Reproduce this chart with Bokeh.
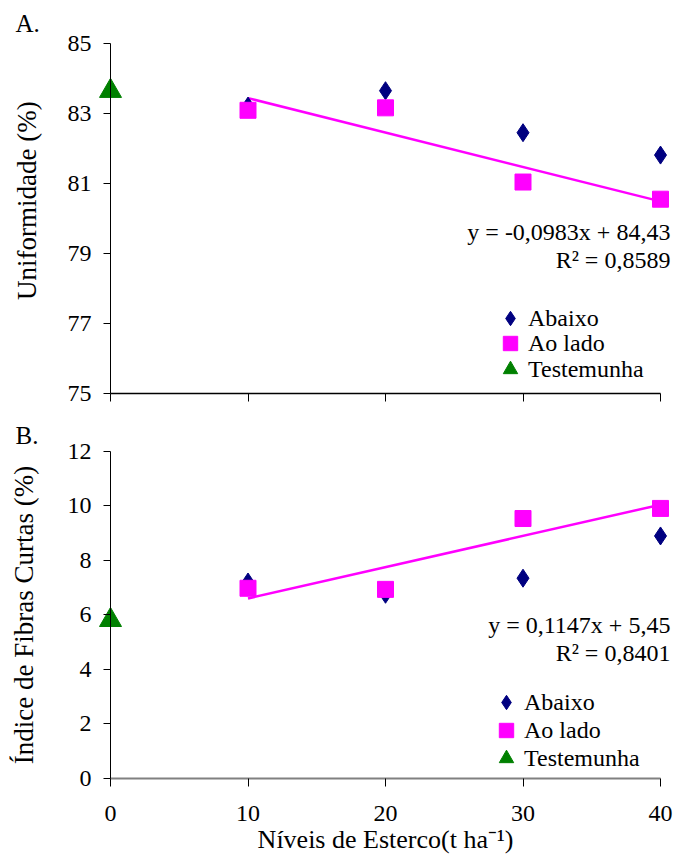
import math
from bokeh.plotting import figure
from bokeh.layouts import column
from bokeh.models import Range1d, Legend, LegendItem, Label, FixedTicker
from bokeh.embed import file_html
from bokeh.resources import INLINE

# ---------------- data ----------------
levels = [10, 20, 30, 40]
control_level = [0]

unif_abaixo = [83.22, 83.66, 82.46, 81.82]
unif_ao_lado = [83.10, 83.17, 81.05, 80.56]
unif_testemunha = [83.65]
unif_slope = -0.0983
unif_intercept = 84.43
unif_eq = "y = -0,0983x + 84,43"
unif_r2 = "R\u00b2 = 0,8589"

fib_abaixo = [7.20, 6.75, 7.34, 8.89]
fib_ao_lado = [6.97, 6.93, 9.53, 9.90]
fib_testemunha = [5.80]
fib_slope = 0.1147
fib_intercept = 5.45
fib_eq = "y = 0,1147x + 5,45"
fib_r2 = "R\u00b2 = 0,8401"

x_ticks = [0, 10, 20, 30, 40]
unif_ticks = [75, 77, 79, 81, 83, 85]
fib_ticks = [0, 2, 4, 6, 8, 10, 12]
trend_x = [10, 40]

series_names = ["Abaixo", "Ao lado", "Testemunha"]
x_title = "N\u00edveis de Esterco(t ha\u207b\u00b9)"
unif_title = "Uniformidade (%)"
fib_title = "\u00cdndice de Fibras Curtas (%)"

# ---------------- style ----------------
FONT = "Liberation Serif"
NAVY = "#000080"
MAGENTA = "#FF00FF"
GREEN = "#008000"
W = 674
X_START, X_END = -8.0, 41.018
EQ_X = 40.72


def make_panel(height, y_view, yticks, ytitle, title_as_label, title_y,
               abaixo, ao_lado, testemunha, slope, intercept, eq, r2,
               panel_letter, show_x_labels, eq_y, legend_locs, letter_y,
               xaxis_color, xaxis_width):
    ymin, ymax = yticks[0], yticks[-1]
    p = figure(width=W, height=height,
               x_range=Range1d(X_START, X_END), y_range=Range1d(*y_view),
               output_backend="svg", toolbar_location=None,
               min_border=0, min_border_left=0, min_border_right=0,
               min_border_top=0, min_border_bottom=0)
    p.outline_line_color = None
    p.grid.visible = False
    p.background_fill_color = "white"
    p.border_fill_color = "white"

    # y axis at x = 0
    ya = p.yaxis[0]
    ya.fixed_location = 0
    ya.bounds = (ymin, ymax)
    ya.ticker = FixedTicker(ticks=yticks)
    ya.minor_tick_line_color = None
    ya.major_tick_in = 0
    ya.major_tick_out = 7
    ya.axis_line_color = "black"
    ya.major_tick_line_color = "black"
    ya.major_label_text_font = FONT
    ya.major_label_text_font_size = "24px"
    ya.major_label_text_color = "black"
    ya.major_label_standoff = 12
    if title_as_label:
        p.add_layout(Label(x=-6.04, y=title_y, text=ytitle,
                           angle=math.pi / 2, text_align="center",
                           text_baseline="middle", text_font=FONT,
                           text_font_size="27px", text_color="black"))
    else:
        ya.axis_label = ytitle
        ya.axis_label_text_font = FONT
        ya.axis_label_text_font_size = "27px"
        ya.axis_label_text_font_style = "normal"
        ya.axis_label_text_color = "black"
        ya.axis_label_standoff = 26

    # x axis at the bottom of the y scale
    xa = p.xaxis[0]
    xa.fixed_location = ymin
    xa.ticker = FixedTicker(ticks=x_ticks)
    xa.bounds = (x_ticks[0], x_ticks[-1])
    xa.minor_tick_line_color = None
    xa.major_tick_in = 0
    xa.major_tick_out = 8
    xa.axis_line_color = xaxis_color
    xa.axis_line_width = xaxis_width
    xa.major_tick_line_color = "black"
    if show_x_labels:
        xa.major_label_text_font = FONT
        xa.major_label_text_font_size = "24px"
        xa.major_label_text_color = "black"
        xa.major_label_standoff = 20
        xa.axis_label = x_title
        xa.axis_label_text_font = FONT
        xa.axis_label_text_font_size = "26px"
        xa.axis_label_text_font_style = "normal"
        xa.axis_label_text_color = "black"
        xa.axis_label_standoff = 0
    else:
        xa.major_label_text_color = None
        xa.major_label_standoff = 0

    # trend line (Ao lado)
    ty = [slope * x + intercept for x in trend_x]
    p.line(trend_x, ty, line_color=MAGENTA, line_width=2.5)

    r_ab = p.scatter(levels, abaixo, marker="diamond", size=18,
                     fill_color=NAVY, line_color=NAVY)
    r_al = p.scatter(levels, ao_lado, marker="square", size=16,
                     fill_color=MAGENTA, line_color=MAGENTA)
    r_te = p.scatter(control_level, testemunha, marker="triangle", size=22,
                     fill_color=GREEN, line_color=GREEN)

    for txt, yy in zip([eq, r2], eq_y):
        p.add_layout(Label(x=EQ_X, y=yy, text=txt, text_align="right",
                           text_baseline="middle", text_font=FONT,
                           text_font_size="24px", text_color="black"))

    p.add_layout(Label(x=-6.91, y=letter_y, text=panel_letter,
                       text_align="left", text_baseline="middle",
                       text_font=FONT, text_font_size="25px",
                       text_color="black"))

    for name, rend, loc in zip(series_names, [r_ab, r_al, r_te], legend_locs):
        lg = Legend(items=[LegendItem(label=name, renderers=[rend])],
                    location=loc, orientation="vertical",
                    glyph_width=36, glyph_height=36, spacing=0,
                    label_standoff=0, padding=0, margin=0,
                    border_line_color=None, background_fill_alpha=0,
                    label_text_font=FONT, label_text_font_size="24px",
                    label_text_color="black")
        p.add_layout(lg, "center")
    return p


top = make_panel(423, (74.151, 86.237), unif_ticks, unif_title, True, 80.52,
                 unif_abaixo, unif_ao_lado, unif_testemunha,
                 unif_slope, unif_intercept, unif_eq, unif_r2,
                 "A.", False, [79.62, 78.81],
                 [(492, 87), (492, 62), (492, 36)], 85.57, "black", 1.5)
bottom = make_panel(432, (-2.837, 13.017), fib_ticks, fib_title, False, None,
                    fib_abaixo, fib_ao_lado, fib_testemunha,
                    fib_slope, fib_intercept, fib_eq, fib_r2,
                    "B.", True, [5.64, 4.59],
                    [(488, 135), (488, 107), (488, 79)], 12.59,
                    "#808080", 2)

layout = column(top, bottom, spacing=0)
open("out.html", "w").write(file_html(layout, INLINE))
